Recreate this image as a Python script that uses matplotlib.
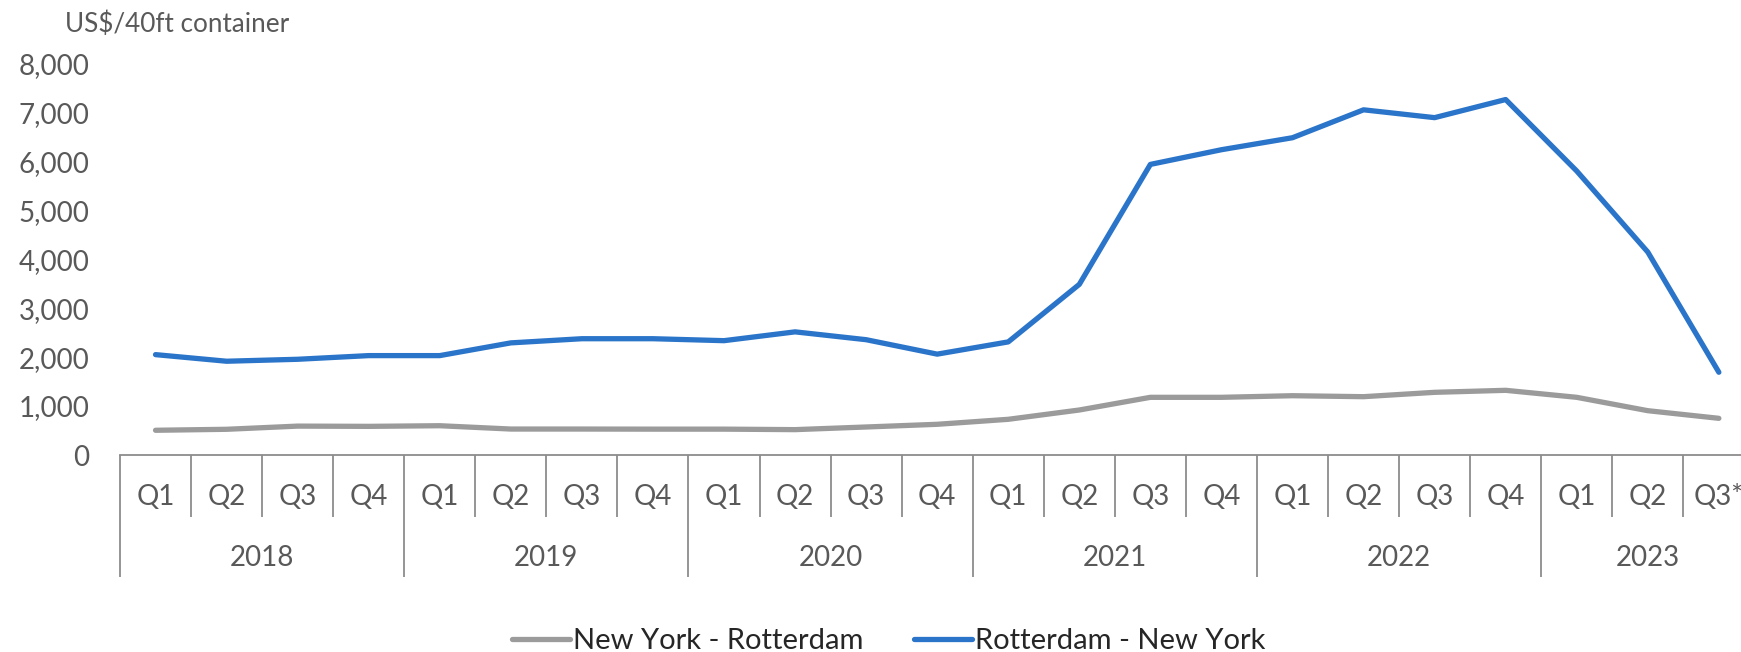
import matplotlib
matplotlib.use("Agg")
import matplotlib.pyplot as plt
import numpy as np

plt.rcParams['font.family'] = ['Lato', 'DejaVu Sans']

years = ["2018", "2019", "2020", "2021", "2022", "2023"]
quarters_per_year = [4, 4, 4, 4, 4, 3]
quarter_labels = ["Q1", "Q2", "Q3", "Q4"] * 5 + ["Q1", "Q2", "Q3*"]

ny_rotterdam = [505, 525, 590, 585, 598, 530, 530, 528, 528, 518, 572, 627,
                729, 919, 1178, 1178, 1211, 1191, 1280, 1321, 1178, 905, 749]
rotterdam_ny = [2050, 1915, 1955, 2030, 2030, 2290, 2375, 2375, 2335, 2515, 2355, 2060,
                2310, 3485, 5935, 6235, 6480, 7050, 6890, 7260, 5800, 4145, 1690]

series_names = ["New York - Rotterdam", "Rotterdam - New York"]
series_colors = ["#9B9B9B", "#2A74C9"]
y_ticks = [0, 1000, 2000, 3000, 4000, 5000, 6000, 7000, 8000]
unit_label = "US$/40ft container"

W, H = 1741, 652
fig = plt.figure(figsize=(W / 100, H / 100), dpi=100)
left_px, bottom_px, top_px = 120, 455, 63.3
cat_w = 71.06
n = len(quarter_labels)
ax = fig.add_axes([left_px / W, (H - bottom_px) / H, n * cat_w / W, (bottom_px - top_px) / H])

x = np.arange(n)
for vals, name, col in zip([ny_rotterdam, rotterdam_ny], series_names, series_colors):
    ax.plot(x, vals, color=col, lw=3.8, label=name, solid_capstyle='round',
            solid_joinstyle='round')

ax.set_xlim(-0.5, n - 0.5)
ax.set_ylim(0, 8000)
ax.set_yticks(y_ticks)
ax.set_yticklabels([f"{v:,}" for v in y_ticks])
tick_col = "#595959"
ax.tick_params(axis='y', length=0, pad=22, labelsize=20, labelcolor=tick_col)

for s in ['top', 'right', 'left']:
    ax.spines[s].set_visible(False)
ax.spines['bottom'].set_color("#8C8C8C")
ax.spines['bottom'].set_linewidth(1.3)

# multi-level category axis
year_bounds = np.concatenate([[0], np.cumsum(quarters_per_year)]) - 0.5
quarter_bounds = np.arange(n + 1) - 0.5
ax.set_xticks(year_bounds)
ax.set_xticks(quarter_bounds, minor=True)
ax.tick_params(axis='x', which='major', length=122 * 0.72, width=1.3, color="#8C8C8C",
               labelbottom=False)
ax.tick_params(axis='x', which='minor', length=61.7 * 0.72, width=1.3, color="#8C8C8C",
               labelbottom=False)

ax_h = bottom_px - top_px
trans = ax.get_xaxis_transform()
for i, q in enumerate(quarter_labels):
    ax.text(i, -(496.7 - bottom_px) / ax_h, q, transform=trans, ha='center', va='center',
            fontsize=20, color=tick_col)
start = 0
for yr, cnt in zip(years, quarters_per_year):
    ax.text(start + (cnt - 1) / 2, -(558 - bottom_px) / ax_h, yr, transform=trans,
            ha='center', va='center', fontsize=20, color=tick_col)
    start += cnt

fig.text(65 / W, 1 - 24 / H, unit_label, ha='left', va='center', fontsize=18.8, color=tick_col)

leg = fig.legend(loc='center left', bbox_to_anchor=(512 / W, (H - 641) / H), ncol=2,
                 frameon=False, borderpad=0, borderaxespad=0, handlelength=2.0,
                 handletextpad=0.08, columnspacing=1.75, fontsize=21)
for t in leg.get_texts():
    t.set_color("#262626")

fig.savefig("out.png", dpi=100)
